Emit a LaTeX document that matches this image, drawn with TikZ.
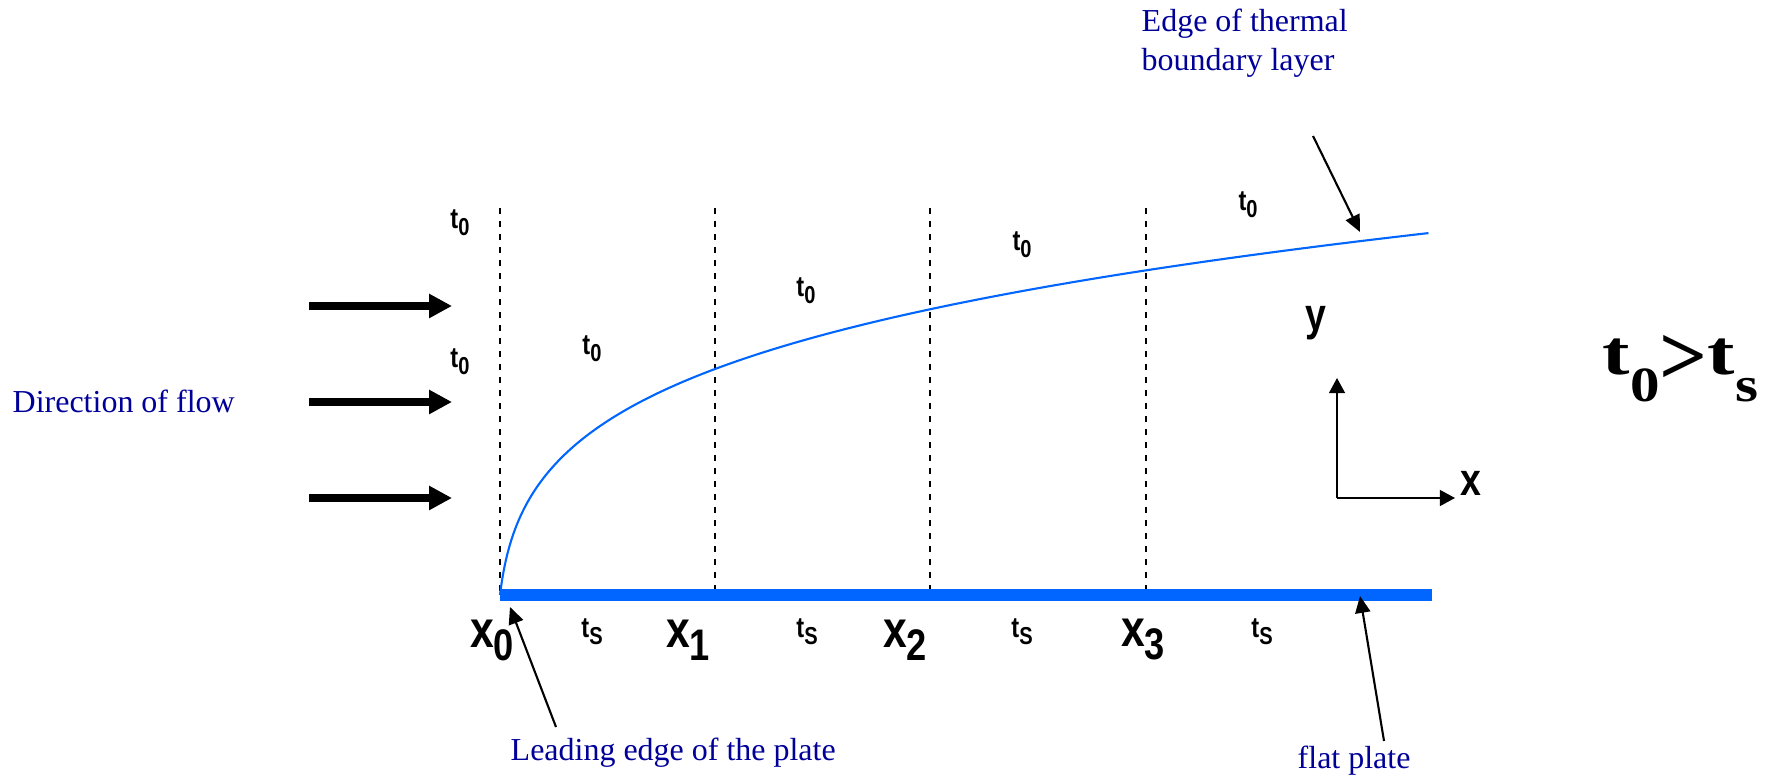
\documentclass[tikz,border=0pt]{standalone}
\usepackage{fontspec}
\setmainfont{Liberation Serif}
\newfontfamily\narrowsf[FakeStretch=0.82]{Liberation Sans}
\usetikzlibrary{arrows.meta}

\definecolor{plateblue}{RGB}{0,102,255}
\definecolor{noteblue}{RGB}{0,0,153}
\newcommand{\lowsub}[1]{\raisebox{-0.25em}{\scalebox{0.85}{#1}}}
\newcommand{\bigsub}[1]{\raisebox{-7.6pt}{\scalebox{1.2}[1]{\fontsize{14}{14}\selectfont #1}}}

\begin{document}
\begin{tikzpicture}[
  bluenote/.style={text=noteblue, font=\fontsize{9.1}{11.1}\selectfont, inner sep=0pt, anchor=base west},
  templabel/.style={font=\narrowsf\bfseries\fontsize{8.2}{10}\selectfont, inner sep=0pt},
  poslabel/.style={font=\narrowsf\bfseries\fontsize{14.8}{16}\selectfont, inner sep=0pt},
  axislabel/.style={font=\narrowsf\bfseries\fontsize{13}{15}\selectfont, inner sep=0pt},
  secline/.style={dash pattern=on 1.8pt off 1.9pt, line width=0.6pt},
  flowarrow/.style={-{Triangle[length=6.5pt,width=6.5pt]}, line width=2.3pt},
  pointer/.style={-{Triangle[length=4.8pt,width=4.3pt]}, line width=0.6pt},
  axisarrow/.style={-{Triangle[length=4.3pt,width=4.5pt]}, line width=0.6pt}
]
\useasboundingbox (0,0) rectangle (17.68,7.74);

% incoming flow
\foreach \k/\yy in {1/4.68, 2/3.72, 3/2.76} {
  \coordinate (in\k) at (3.09,\yy);
  \coordinate (out\k) at (4.52,\yy);
  \draw[flowarrow] (in\k) -- (out\k);
}
\node[bluenote] (flowtext) at (0.12,3.61) {Direction of flow};

% stations along the plate
\foreach \i/\xx/\lx in {0/5.00/4.92, 1/7.15/6.88, 2/9.30/9.05, 3/11.46/11.43} {
  \coordinate (top\i) at (\xx,5.66);
  \coordinate (foot\i) at (\xx,1.79);
  \draw[secline] (top\i) -- (foot\i);
  \node[poslabel] (x\i) at (\lx,1.34) {x\lowsub{\i}};
}

% thermal boundary layer and plate
\coordinate (plateL) at (5.00,1.79);
\coordinate (plateR) at (14.32,1.79);
\draw[plateblue, line width=0.6pt] plot[variable=\s, domain=0:1, samples=150, smooth]
  ({5+9.32*\s*\s},{1.79+1.733*((932*\s*\s+5)^0.18-1.3359)});
\draw[plateblue, line width=3.4pt] (plateL) -- (plateR);

% temperatures
\node[templabel] (tin1) at (4.60,5.51) {t\lowsub{0}};
\node[templabel] (tin2) at (4.60,4.12) {t\lowsub{0}};
\node[templabel] (tfree1) at (5.92,4.25) {t\lowsub{0}};
\node[templabel] (tfree2) at (8.06,4.83) {t\lowsub{0}};
\node[templabel] (tfree3) at (10.22,5.29) {t\lowsub{0}};
\node[templabel] (tfree4) at (12.48,5.69) {t\lowsub{0}};
\node[templabel] (ts1) at (5.92,1.42) {t\lowsub{S}};
\node[templabel] (ts2) at (8.07,1.42) {t\lowsub{S}};
\node[templabel] (ts3) at (10.22,1.42) {t\lowsub{S}};
\node[templabel] (ts4) at (12.62,1.42) {t\lowsub{S}};

% callouts
\node[bluenote, align=left] (edgetext) at (11.41,7.03) {Edge of thermal\\boundary layer};
\coordinate (edgetail) at (13.13,6.38);
\coordinate (edgetip) at (13.60,5.42);
\draw[pointer] (edgetail) -- (edgetip);

\node[bluenote] (leadtext) at (5.10,0.14) {Leading edge of the plate};
\coordinate (leadtail) at (5.56,0.47);
\coordinate (leadtip) at (5.10,1.67);
\draw[pointer] (leadtail) -- (leadtip);

\node[bluenote] (platetext) at (12.97,0.06) {flat plate};
\coordinate (platetail) at (13.84,0.33);
\coordinate (platetip) at (13.60,1.78);
\draw[pointer] (platetail) -- (platetip);

% axes
\coordinate (origin) at (13.37,2.76);
\coordinate (ytip) at (13.37,3.96);
\coordinate (xtip) at (14.55,2.76);
\draw[axisarrow] (origin) -- (ytip);
\draw[axisarrow] (origin) -- (xtip);
\node[axislabel] (ylab) at (13.16,4.51) {y};
\node[axislabel] (xlab) at (14.71,2.91) {x};

\node[font=\bfseries\fontsize{18}{22}\selectfont, anchor=base west, inner sep=0pt] (relation) at (16.02,3.99)
  {\scalebox{1.3}[1]{t}\bigsub{0}\raisebox{-2.8pt}{\fontsize{24}{24}\selectfont >}\scalebox{1.3}[1]{t}\bigsub{s}};
\end{tikzpicture}
\end{document}
